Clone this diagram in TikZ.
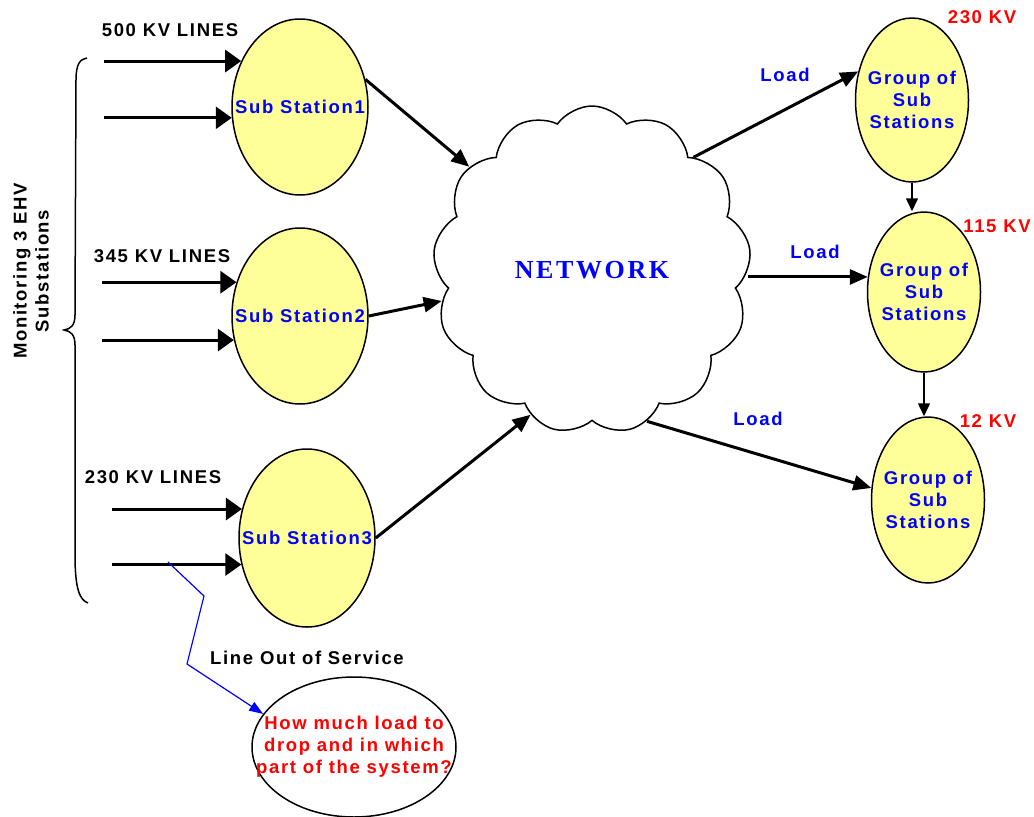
\documentclass[tikz,border=0pt]{standalone}
\usepackage{fontspec}
\usepackage{xcolor}
\usetikzlibrary{shapes.geometric,shapes.symbols,arrows.meta}
\newfontfamily\arialb{Liberation Sans}[LetterSpace=9]
\newfontfamily\timesb{Liberation Serif}[LetterSpace=10]
\definecolor{subyellow}{RGB}{255,255,153}

\begin{document}
\begin{tikzpicture}[x=1pt,y=-1pt,
  txt/.style={font=\arialb\bfseries\fontsize{18.5}{22}\selectfont, inner sep=0pt, align=center},
  station/.style={ellipse, draw, line width=1.5pt, fill=subyellow, minimum width=136pt, minimum height=176pt, inner sep=0pt},
  group/.style={ellipse, draw, line width=1.5pt, fill=subyellow, minimum width=113pt, minimum height=164pt, inner sep=0pt},
  feed/.style={line width=3pt, -{Triangle[length=16pt,width=22pt]}},
  link/.style={line width=3pt, -{Triangle[length=18pt,width=15pt]}},
  drop/.style={line width=1.5pt, -{Triangle[length=13pt,width=12pt]}},
  every label/.style={txt, text=blue}]
\useasboundingbox (0,0) rectangle (1034,817);

% substations
\node[station, label={center:Sub Station1}] (s1) at (300,107) {};
\node[station, label={center:Sub Station2}] (s2) at (300,316) {};
\node[station, minimum height=178pt, label={center:Sub Station3}] (s3) at (307,538) {};

\node[cloud, draw, line width=1.5pt, cloud puffs=13, cloud puff arc=110, cloud ignores aspect,
  minimum width=318pt, minimum height=328pt, font=\timesb\bfseries\fontsize{26}{30}\selectfont, text=blue] (net) at (592,270) {NETWORK};

\node[group, label={center:Group of\\Sub\\Stations}] (g1) at (912,100) {};
\node[group, minimum height=160pt, label={center:Group of\\Sub\\Stations}] (g2) at (924,292) {};
\node[group, minimum height=166pt, label={center:Group of\\Sub\\Stations}] (g3) at (928,500) {};

\node[txt, text=red] (kv1) at (982,17) {230 KV};
\node[txt, text=red] (kv2) at (997,226) {115 KV};
\node[txt, text=red] (kv3) at (988,421) {12 KV};

\node[txt, text=blue] (ld1) at (785,75) {Load};
\node[txt, text=blue] (ld2) at (815,252) {Load};
\node[txt, text=blue] (ld3) at (758,419) {Load};

\node[txt] (kv500) at (170,30) {500 KV LINES};
\node[txt] (kv345) at (162,256) {345 KV LINES};
\node[txt] (kv230) at (153,477) {230 KV LINES};
\node[txt, rotate=90] (mon) at (31,271) {Monitoring 3 EHV\\Substations};

% incoming lines
\coordinate (w1) at (104,0);
\coordinate (w2) at (102,0);
\coordinate (w3) at (112,0);
\draw[feed] (s1.142 -| w1) -- (s1.142);
\draw[feed] (s1.189 -| w1) -- (s1.189);
\draw[feed] (s2.152 -| w2) -- (s2.152);
\draw[feed] (s2.200 -| w2) -- (s2.200);
\draw[feed] (s3.156 -| w3) -- (s3.156);
\draw[feed] (s3.202 -| w3) -- (s3.202);

\draw[line width=1.5pt] (87,58) .. controls (80,59) and (76,64) .. (76,80) -- (75,315)
  .. controls (75,325) and (71,329) .. (64,330) .. controls (71,331) and (75,335) .. (75,345)
  -- (75,555) .. controls (75,590) and (80,600) .. (88,603);

\draw[link] (s1.23) -- (net);
\draw[link] (s2.east) -- (net);
\draw[link] (s3.east) -- (net.247);
\draw[link] (net.48) -- (g1.152);
\draw[link] (g2.165 -| net.east) -- (g2.165);
\draw[link] (net.290) -- (g3.168);
\draw[drop] (g1.south) -- (g1.south |- g2.north);
\draw[drop] (g2.south) -- (g2.south |- g3.north);

% line out of service
\node[txt] (los) at (307,658) {Line Out of Service};
\node[ellipse, draw, line width=1.5pt, fill=white, minimum width=204pt, minimum height=140pt, inner sep=0pt,
  label={[text=red]center:How much load to\\drop and in which\\part of the system?}] (q) at (354,747) {};
\coordinate (fault) at (168,562);
\draw[blue, line width=1.2pt, -{Triangle[length=14pt,width=10pt]}] (fault) -- ++(36,34) -- ++(-17,68) -- (q.160);
\end{tikzpicture}
\end{document}
